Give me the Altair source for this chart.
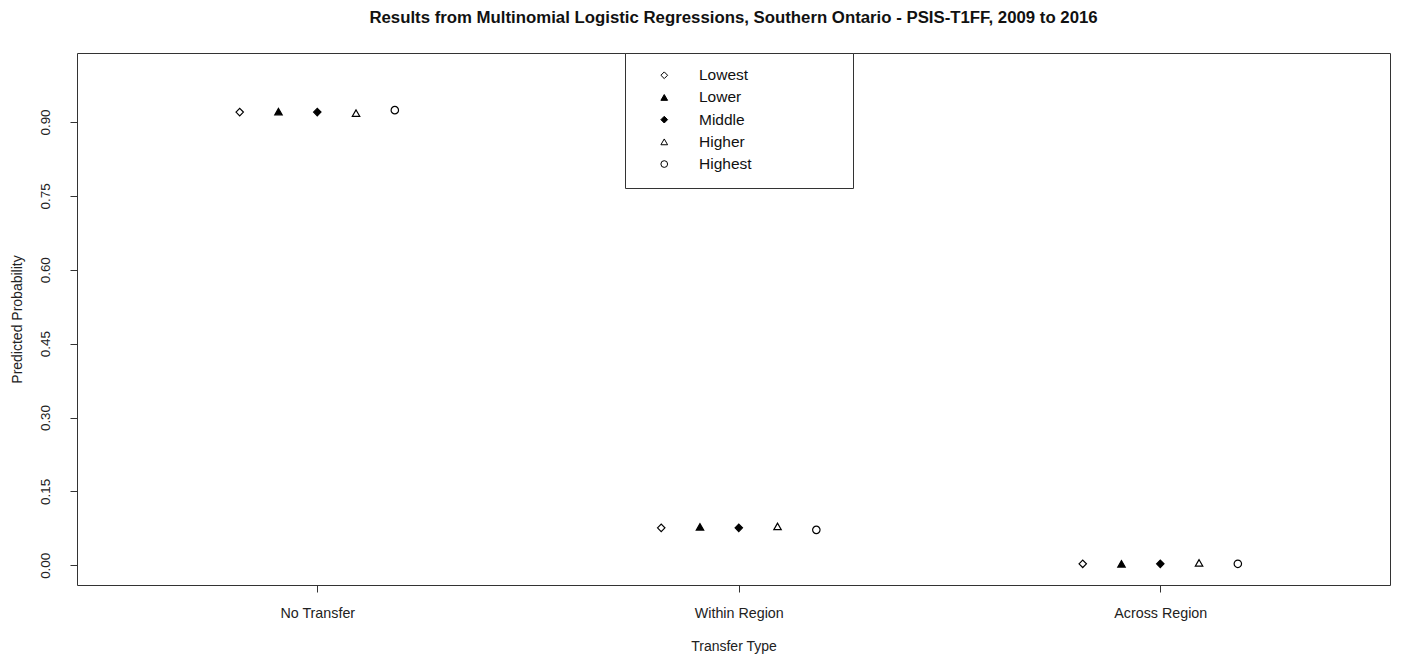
import altair as alt
import pandas as pd

categories = ["No Transfer", "Within Region", "Across Region"]
groups = ["Lowest", "Lower", "Middle", "Higher", "Highest"]
no_transfer = [0.920, 0.921, 0.920, 0.918, 0.924]
within_region = [0.076, 0.078, 0.076, 0.079, 0.072]
across_region = [0.003, 0.003, 0.003, 0.005, 0.003]
half_interval = [0.004, 0.004, 0.004, 0.004, 0.006]
y_ticks = [0.0, 0.15, 0.30, 0.45, 0.60, 0.75, 0.90]
shapes = ["diamond", "triangle-up", "diamond", "triangle-up", "circle"]
fills = ["white", "black", "black", "white", "white"]

rows = []
for ci, (cat, vals) in enumerate(zip(categories, [no_transfer, within_region, across_region])):
    for gi, (g, v) in enumerate(zip(groups, vals)):
        rows.append({"Transfer": cat, "ci": ci, "Group": g, "gi": gi, "p": v,
                     "lo": v - half_interval[gi], "hi": v + half_interval[gi]})
df = pd.DataFrame(rows)

FONT = "Liberation Sans"
pad = "\u00a0" * 20 + "\u200b"

base = alt.Chart(df).transform_calculate(
    xpos="datum.ci + 1 + (datum.gi - 2) * 0.092"
)

x_enc = alt.X("xpos:Q",
              scale=alt.Scale(domain=[0.43, 3.545], nice=False, zero=False),
              axis=alt.Axis(values=[1, 2, 3],
                            labelExpr="['No Transfer','Within Region','Across Region'][datum.value-1]",
                            title="Transfer Type", grid=False, domain=False,
                            tickSize=7, tickColor="#333", labelPadding=14,
                            titlePadding=19, labelFontSize=14.3, titleFontSize=14,
                            titleFontWeight="normal", labelColor="#222", titleColor="#222",
                            labelFont=FONT, titleFont=FONT))

y_scale = alt.Scale(domain=[-0.04, 1.04], nice=False, zero=False)

rules = base.mark_rule(color="#333", strokeWidth=1).encode(
    x=x_enc,
    y=alt.Y("lo:Q", scale=y_scale),
    y2="hi:Q",
)

legend = alt.Legend(title=None, orient="none", legendX=548, legendY=0,
                    padding=14.5, symbolOffset=17, labelOffset=27,
                    rowPadding=5.2, labelFontSize=15.5, labelFont=FONT,
                    labelColor="#111", labelLimit=400,
                    labelExpr="datum.label + '" + pad + "'",
                    strokeColor="#333", fillColor="white",
                    symbolSize=45, symbolStrokeColor="black", symbolStrokeWidth=1)

points = base.mark_point(size=55, strokeWidth=1.2, opacity=1).encode(
    x=x_enc,
    y=alt.Y("p:Q", scale=y_scale,
            axis=alt.Axis(values=y_ticks, format=".2f", title="Predicted Probability",
                          grid=False, domain=False, tickSize=7, tickColor="#333",
                          labelAngle=270, labelAlign="center", labelBaseline="bottom",
                          labelPadding=18, titlePadding=14, labelFontSize=13.4,
                          titleFontSize=14, titleFontWeight="normal",
                          labelColor="#222", titleColor="#222",
                          labelFont=FONT, titleFont=FONT)),
    shape=alt.Shape("Group:N", scale=alt.Scale(domain=groups, range=shapes), legend=legend),
    fill=alt.Fill("Group:N", scale=alt.Scale(domain=groups, range=fills), legend=legend),
    stroke=alt.Stroke("Group:N", scale=alt.Scale(domain=groups, range=["black"] * 5), legend=legend),
)

chart = alt.layer(rules, points).properties(
    width=1313, height=532,
    background="white",
    title=alt.Title("Results from Multinomial Logistic Regressions, Southern Ontario - PSIS-T1FF, 2009 to 2016",
                    fontSize=16.8, fontWeight="bold", font=FONT, color="#111",
                    anchor="middle", offset=26),
    autosize=alt.AutoSizeParams(type="none"),
    padding={"left": 69, "top": 45, "right": 8, "bottom": 69},
).configure_view(stroke="#333", strokeWidth=1)

chart.save("out.html", embed_options={"renderer": "svg", "actions": False})
